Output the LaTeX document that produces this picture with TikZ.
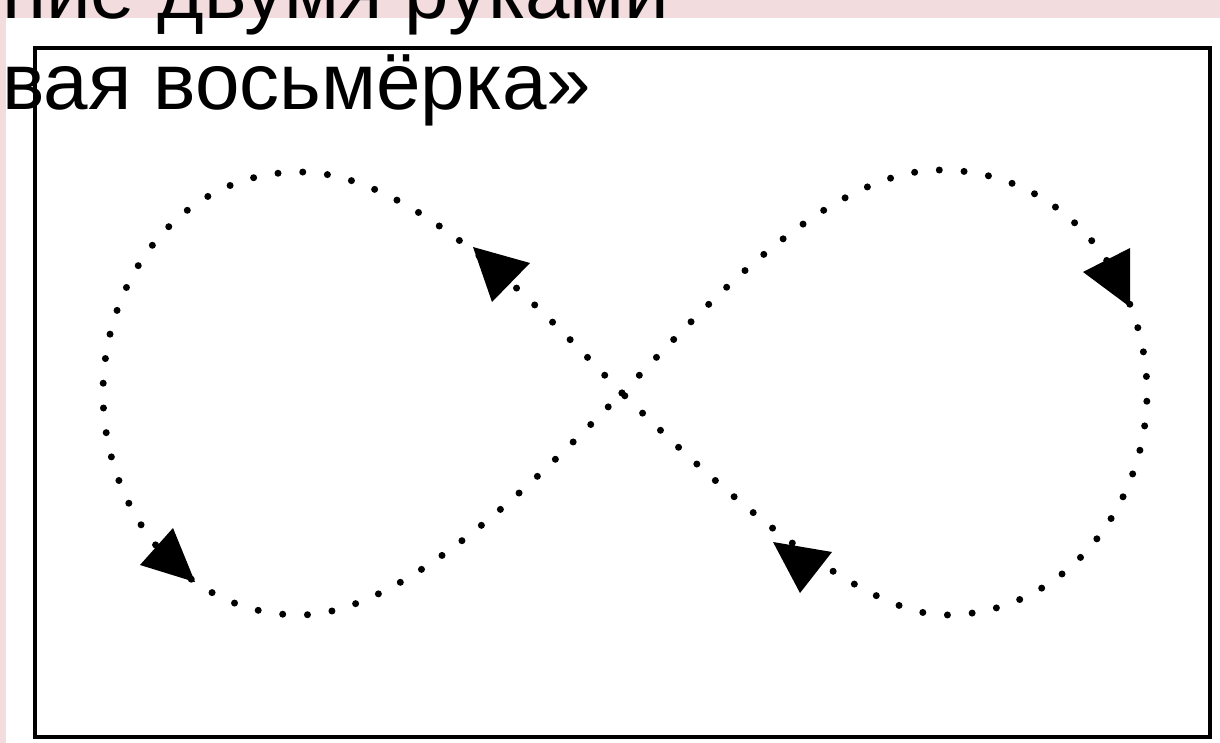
\documentclass[tikz,border=0pt]{standalone}
\usepackage{fontspec}
\setmainfont{Liberation Sans}
\usetikzlibrary{calc}

\definecolor{slidepink}{RGB}{242,220,222}

\begin{document}
\begin{tikzpicture}[
    x=1pt, y=-1pt,
    frame/.style={draw=black, line width=4pt},
    dotline/.style={draw=black, line width=7pt, line cap=round, dash pattern=on 0pt off 24.8pt},
    arrowhead/.style={fill=black},
    title/.style={anchor=base west, inner sep=0pt, outer sep=0pt, font=\fontsize{80}{92}\selectfont},
]

% Canvas
\useasboundingbox (0,0) rectangle (1220,743);
\clip (0,0) rectangle (1220,743);
\fill[white] (0,0) rectangle (1220,743);

% Pink slide margin
\fill[slidepink] (0,0) rectangle (1220,18);
\fill[slidepink] (0,0) rectangle (6,743);

% Frame
\draw[frame] (35,48) rectangle (1210,737);

% === Lazy eight ===
\coordinate (X) at (622,393);
\coordinate (LT) at (300,172);
\coordinate (LW) at (103,393);
\coordinate (LB) at (300,615);
\coordinate (RT) at (940,170);
\coordinate (RE) at (1147,393);
\coordinate (RB) at (945,615);

% Left loop
\draw[dotline] (X) .. controls (560,330) and (420,172) .. (LT)
    .. controls (180,172) and (103,280) .. (LW)
    .. controls (103,505) and (180,615) .. (LB)
    .. controls (410,615) and (560,455) .. (X);

% Right loop
\draw[dotline] (X) .. controls (685,330) and (820,170) .. (RT)
    .. controls (1065,170) and (1147,280) .. (RE)
    .. controls (1147,505) and (1065,615) .. (RB)
    .. controls (850,615) and (685,455) .. (X);

% Arrowheads
\fill[arrowhead] (473,247) -- (530,263) -- (492,302) -- cycle;
\fill[arrowhead] (1083,272) -- (1130,248) -- (1130,307) -- cycle;
\fill[arrowhead] (173,528) -- (140,565) -- (195,582) -- cycle;
\fill[arrowhead] (773,542) -- (832,552) -- (800,593) -- cycle;

% Slide title (cut off)
\node[title] (line1) at (2,19) {ние двумя руками};
\node[title] (line2) at (2,110) {вая восьмёрка»};

\end{tikzpicture}
\end{document}
